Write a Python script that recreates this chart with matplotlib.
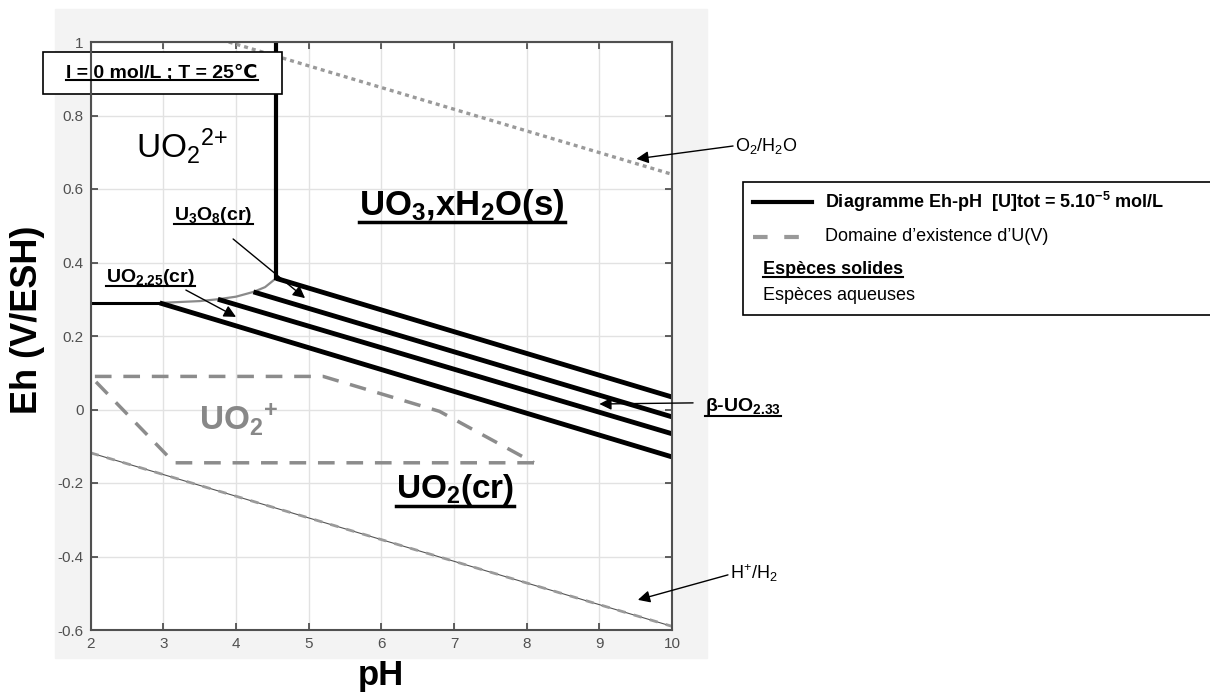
import matplotlib
matplotlib.use('Agg')
import matplotlib.pyplot as plt
from matplotlib.patches import Rectangle
from matplotlib.lines import Line2D

plt.rcParams['font.family'] = ['Liberation Sans', 'DejaVu Sans']
plt.rcParams['mathtext.fontset'] = 'custom'
plt.rcParams['mathtext.rm'] = 'Liberation Sans'
plt.rcParams['mathtext.it'] = 'Liberation Sans:italic'
plt.rcParams['mathtext.bf'] = 'Liberation Sans:bold'

# frontieres du diagramme Eh-pH (pH, Eh en V/ESH)
ph_uo2_vert = [4.55, 4.55]
eh_uo2_vert = [1.0, 0.357]
ph_uo2_horiz = [2.0, 2.95]
eh_uo2_horiz = [0.29, 0.29]

# limite de solubilite (courbe grise)
ph_courbe = [2.95, 3.5, 3.75, 4.0, 4.24, 4.4, 4.55]
eh_courbe = [0.290, 0.295, 0.300, 0.307, 0.320, 0.333, 0.357]

# quatre droites paralleles : oxydes solides
ph_debut = [4.55, 4.24, 3.75, 2.95]
eh_debut = [0.357, 0.320, 0.300, 0.290]
ph_fin = [10, 10, 10, 10]
eh_fin = [0.034, -0.020, -0.066, -0.129]

# domaine d'existence d'U(V)
ph_uv = [8.1, 3.15, 2.0, 5.2, 6.8, 8.1]
eh_uv = [-0.145, -0.145, 0.09, 0.09, -0.005, -0.145]

# couples de l'eau
ph_o2 = [3.9, 10]
eh_o2 = [1.0, 0.64]
ph_h2 = [2, 10]
eh_h2 = [-0.118, -0.59]

xticks = [2, 3, 4, 5, 6, 7, 8, 9, 10]
yticks = [-0.6, -0.4, -0.2, 0, 0.2, 0.4, 0.6, 0.8, 1]
ytick_labels = ['-0.6', '-0.4', '-0.2', '0', '0.2', '0.4', '0.6', '0.8', '1']

W, H = 1210, 695


def fx(px):
    return px / W


def fy(py):
    return 1 - py / H


fig = plt.figure(figsize=(12.1, 6.95), dpi=100)

# fond gris clair autour du graphe
fig.add_artist(Rectangle((fx(55), fy(658)), fx(707) - fx(55), fy(9) - fy(658),
                         transform=fig.transFigure, color='#f3f3f3', zorder=-1))

ax = fig.add_axes([fx(90.7), fy(630), fx(672) - fx(90.7), fy(42) - fy(630)])
ax.set_xlim(2, 10)
ax.set_ylim(-0.6, 1)
ax.set_xticks(xticks)
ax.set_yticks(yticks)
ax.set_yticklabels(ytick_labels)
ax.grid(True, color='#e2e2e2', lw=1)
ax.set_axisbelow(True)
ax.tick_params(direction='in', top=True, right=True, length=5, width=1.2,
               color='#444444', labelcolor='#505050', labelsize=11, pad=5)
for lab in ax.get_xticklabels() + ax.get_yticklabels():
    lab.set_family(['Liberation Sans Narrow', 'Liberation Sans'])
for sp in ax.spines.values():
    sp.set_color('#505050')
    sp.set_linewidth(1.5)

# couples de l'eau
ax.plot(ph_o2, eh_o2, color='#9a9a9a', lw=2.4, dashes=(1.2, 1.2))
ax.plot(ph_h2, eh_h2, color='#555555', lw=0.8)
ax.plot(ph_h2, eh_h2, color='#9a9a9a', lw=2, dashes=(3, 3))

# domaine U(V)
ax.plot(ph_uv, eh_uv, color='#8c8c8c', lw=2.5, dashes=(4.8, 3.4))

# diagramme
ax.plot(ph_courbe, eh_courbe, color='#8a8a8a', lw=1.6)
ax.plot(ph_uo2_vert, eh_uo2_vert, color='black', lw=3)
ax.plot(ph_uo2_horiz, eh_uo2_horiz, color='black', lw=2.2)
for x0, y0, x1, y1 in zip(ph_debut, eh_debut, ph_fin, eh_fin):
    ax.plot([x0, x1], [y0, y1], color='black', lw=3.5, solid_capstyle='butt')

# cadre des conditions
ax.add_patch(Rectangle((fx(43), fy(94)), fx(282) - fx(43), fy(52) - fy(94),
                       transform=fig.transFigure, facecolor='white',
                       edgecolor='black', lw=1.2, zorder=2.5, clip_on=False))
souligne = []
souligne.append(fig.text(fx(162), fy(73), 'I = 0 mol/L ; T = 25\u2103', fontsize=14,
                         weight='bold', ha='center', va='center', zorder=5))

# especes
ax.text(3.26, 0.717, r'UO$_2{}^{2{+}}$', fontsize=24, ha='center', va='center')
ax.text(4.04, -0.025, r'UO$_{\mathbf{2}}{}^{\mathbf{{+}}}$', fontsize=24, weight='bold',
        color='#888888', ha='center', va='center')
souligne.append(ax.text(7.11, 0.556, r'UO$_{\mathbf{3}}$,xH$_{\mathbf{2}}$O(s)',
                        fontsize=25, weight='bold', ha='center', va='center'))
souligne.append(ax.text(7.01, -0.219, r'UO$_{\mathbf{2}}$(cr)', fontsize=24,
                        weight='bold', ha='center', va='center'))
souligne.append(ax.text(3.69, 0.529, r'U$_{\mathbf{3}}$O$_{\mathbf{8}}$(cr)', fontsize=14,
                        weight='bold', ha='center', va='center'))
souligne.append(ax.text(2.82, 0.36, r'UO$_{\mathbf{2.25}}$(cr)', fontsize=14,
                        weight='bold', ha='center', va='center'))

fleche = dict(arrowstyle='-|>', color='black', lw=1, mutation_scale=18,
              shrinkA=0, shrinkB=0)
ax.annotate('', xy=(4.95, 0.303), xytext=(3.96, 0.464), arrowprops=fleche)
ax.annotate('', xy=(4.0, 0.252), xytext=(3.31, 0.325), arrowprops=fleche)
ax.annotate('', xy=(9.0, 0.015), xytext=(10.29, 0.018), arrowprops=fleche,
            annotation_clip=False)
ax.annotate('', xy=(9.51, 0.682), xytext=(10.84, 0.717), arrowprops=fleche,
            annotation_clip=False)
ax.annotate('', xy=(9.53, -0.518), xytext=(10.77, -0.45), arrowprops=fleche,
            annotation_clip=False)

souligne.append(ax.text(10.46, 0.008, '\u03b2-UO$_{\\mathbf{2.33}}$',
                        fontsize=14, weight='bold', ha='left', va='center', clip_on=False))
ax.text(10.87, 0.717, r'O$_2$/H$_2$O', fontsize=13, ha='left', va='center', clip_on=False)
ax.text(10.8, -0.445, r'H$^{{+}}$/H$_2$', fontsize=13, ha='left', va='center', clip_on=False)

# titres des axes
fig.text(fx(28), fy(320), 'Eh (V/ESH)', rotation=90, fontsize=26, weight='bold',
         ha='center', va='center')
fig.text(fx(381), fy(676), 'pH', fontsize=25, weight='bold', ha='center', va='center')

# legende
fig.add_artist(Rectangle((fx(743), fy(315)), fx(1220) - fx(743), fy(182) - fy(315),
                         transform=fig.transFigure, facecolor='white',
                         edgecolor='black', lw=1.2))
fig.add_artist(Line2D([fx(753), fx(812)], [fy(202), fy(202)], color='black', lw=3))
fig.add_artist(Line2D([fx(753), fx(812)], [fy(237), fy(237)], color='#999999', lw=3,
                      dashes=(3.5, 4)))
fig.text(fx(825), fy(202), r'Diagramme Eh-pH  [U]tot = 5.10$^{\mathbf{-5}}$ mol/L',
         fontsize=13, weight='bold', va='center')
fig.text(fx(825), fy(237), 'Domaine d\u2019existence d\u2019U(V)', fontsize=13, va='center')
souligne.append(fig.text(fx(763), fy(270), 'Esp\u00e8ces solides', fontsize=13,
                         weight='bold', va='center'))
fig.text(fx(763), fy(296), 'Esp\u00e8ces aqueuses', fontsize=13, va='center')

# soulignement des especes solides
fig.canvas.draw()
rend = fig.canvas.get_renderer()
inv = fig.transFigure.inverted()
for t in souligne:
    bb = t.get_window_extent(rend)
    epais = 2.5 if t.get_fontsize() > 20 else 1.5
    (x0, y0), (x1, _) = inv.transform([(bb.x0, bb.y0 + 1.5), (bb.x1, bb.y0 + 1.5)])
    fig.add_artist(Line2D([x0, x1], [y0, y0], color='black', lw=epais, zorder=6))

fig.savefig('out.png', dpi=100)
